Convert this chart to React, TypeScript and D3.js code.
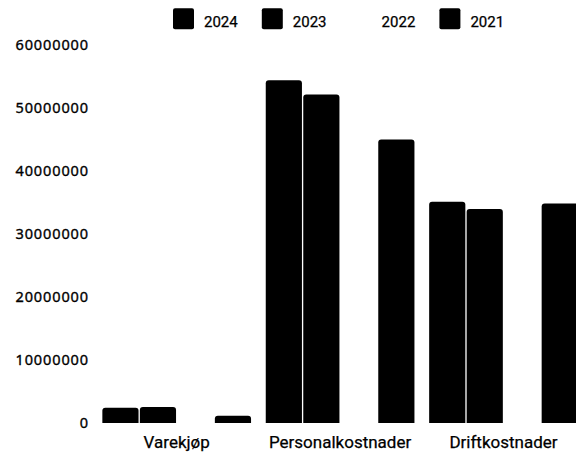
import React from 'react';
import { scaleBand, scaleLinear } from 'd3';

const categories = ['Varekjøp', 'Personalkostnader', 'Driftkostnader'];
const series = ['2024', '2023', '2022', '2021'];
const values2024 = [2430000, 54400000, 35100000];
const values2023 = [2550000, 52150000, 33950000];
const values2022: (number | null)[] = [null, null, null];
const values2021 = [1160000, 45000000, 34850000];
const yTicks = [0, 10000000, 20000000, 30000000, 40000000, 50000000, 60000000];

const seriesValues = [values2024, values2023, values2022, values2021];
const seriesColors = ['#000000', '#000000', '#ffffff', '#000000'];

const W = 576;
const H = 453;

// path for a bar with rounded top corners
const barPath = (x: number, y: number, w: number, h: number, r: number) => {
  const rr = Math.min(r, h, w / 2);
  return `M${x},${y + h}V${y + rr}Q${x},${y} ${x + rr},${y}H${x + w - rr}Q${x + w},${y} ${x + w},${y + rr}V${y + h}Z`;
};

export default function App() {
  const x0 = scaleBand<string>().domain(categories).range([95, 585.2]);
  const bw = x0.bandwidth();
  const x1 = scaleBand<string>()
    .domain(series)
    .range([0.045 * bw, 0.955 * bw])
    .paddingInner(0.035);
  const y = scaleLinear().domain([0, 60000000]).range([423, 45]);

  return (
    <svg
      width={W}
      height={H}
      style={{ position: 'absolute', left: 0, top: 0, background: '#fff' }}
    >
      {/* legend */}
      <g fontFamily="Roboto" fontSize={15} fill="#000" stroke="#000" strokeWidth={0.25}>
        {series.map((s, i) => {
          const lx = 173 + i * 88.8;
          return (
            <g key={s}>
              <rect x={lx} y={8.3} width={21} height={21} rx={2} fill={seriesColors[i]} stroke="none" />
              <text x={lx + 31} y={26.5}>{s}</text>
            </g>
          );
        })}
      </g>

      {/* y axis labels */}
      <g fontFamily="Noto Sans" fontSize={14.5} letterSpacing={0.9} fill="#000" stroke="#000" strokeWidth={0.35} textAnchor="end">
        {yTicks.map((t) => (
          <text key={t} x={89} y={y(t)} dy="0.36em">{t}</text>
        ))}
      </g>

      {/* bars */}
      {categories.map((c, ci) => (
        <g key={c} transform={`translate(${x0(c)},0)`}>
          {series.map((s, si) => {
            const v = seriesValues[si][ci];
            if (v == null || v === 0) return null;
            const top = y(v);
            return (
              <path
                key={s}
                d={barPath(x1(s)!, top, x1.bandwidth(), y(0) - top, 3)}
                fill={seriesColors[si]}
              />
            );
          })}
        </g>
      ))}

      {/* category labels */}
      <g fontFamily="Roboto" fontSize={17} fill="#000" stroke="#000" strokeWidth={0.25} textAnchor="middle">
        {categories.map((c) => (
          <text key={c} x={x0(c)! + bw / 2} y={447.5}>{c}</text>
        ))}
      </g>
    </svg>
  );
}
